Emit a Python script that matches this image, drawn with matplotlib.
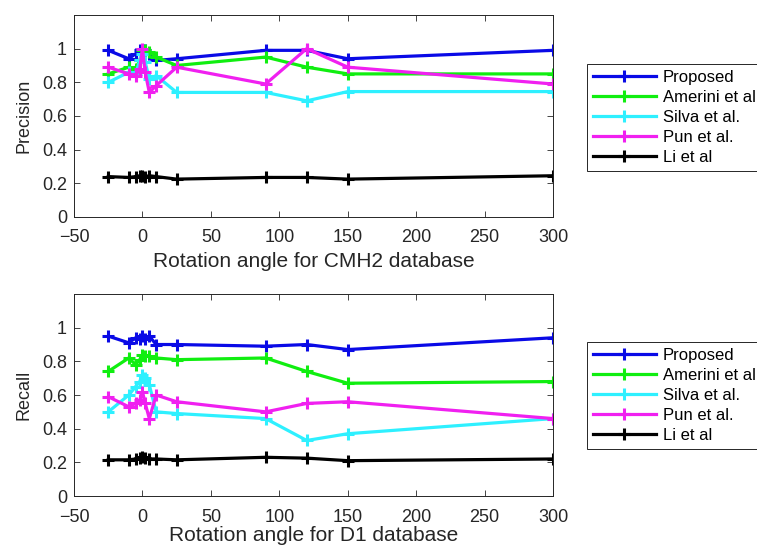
import numpy as np
import matplotlib
matplotlib.use("Agg")
import matplotlib.pyplot as plt

plt.rcParams["font.family"] = ["Liberation Sans", "DejaVu Sans"]

# =====================================================
# DATA
# =====================================================

angles = [-25, -10, -5, -2, 0, 2, 5, 10, 25, 90, 120, 150, 300]

methods = ["Proposed", "Amerini et al", "Silva et al.", "Pun et al.", "Li et al"]

colors = ["#0a0ae6", "#10ee10", "#2ef0ff", "#f020f0", "#000000"]

# precision, CMH2 database
prec_proposed = [0.99, 0.94, 0.97, 0.99, 0.99, 0.99, 0.97, 0.93, 0.94, 0.99, 0.99, 0.94, 0.99]
prec_amerini = [0.85, 0.89, 0.88, 0.93, 0.99, 0.99, 0.98, 0.95, 0.90, 0.95, 0.89, 0.85, 0.85]
prec_silva = [0.80, 0.86, 0.85, 0.93, 0.97, 0.92, 0.82, 0.84, 0.74, 0.74, 0.69, 0.745, 0.745]
prec_pun = [0.89, 0.85, 0.84, 0.88, 1.00, 0.86, 0.74, 0.78, 0.89, 0.79, 1.00, 0.89, 0.79]
prec_li = [0.24, 0.235, 0.24, 0.245, 0.245, 0.24, 0.245, 0.24, 0.225, 0.235, 0.235, 0.225, 0.245]

# recall, D1 database
rec_proposed = [0.95, 0.91, 0.94, 0.93, 0.95, 0.93, 0.95, 0.90, 0.90, 0.89, 0.90, 0.87, 0.94]
rec_amerini = [0.74, 0.82, 0.78, 0.81, 0.84, 0.83, 0.83, 0.82, 0.81, 0.82, 0.74, 0.67, 0.68]
rec_silva = [0.50, 0.60, 0.65, 0.68, 0.72, 0.70, 0.66, 0.50, 0.49, 0.46, 0.33, 0.37, 0.46]
rec_pun = [0.59, 0.53, 0.55, 0.57, 0.62, 0.55, 0.46, 0.60, 0.56, 0.50, 0.55, 0.56, 0.46]
rec_li = [0.215, 0.215, 0.22, 0.225, 0.23, 0.225, 0.22, 0.22, 0.215, 0.23, 0.225, 0.21, 0.22]

precision = [prec_proposed, prec_amerini, prec_silva, prec_pun, prec_li]
recall = [rec_proposed, rec_amerini, rec_silva, rec_pun, rec_li]

xticks = [-50, 0, 50, 100, 150, 200, 250, 300]
yticks = [0, 0.2, 0.4, 0.6, 0.8, 1]
ytick_labels = ["0", "0.2", "0.4", "0.6", "0.8", "1"]

# =====================================================
# PLOT
# =====================================================

fig = plt.figure(figsize=(7.57, 5.47), dpi=100)

ax_top = fig.add_axes([0.0978, 0.6033, 0.6328, 0.3693])
ax_bot = fig.add_axes([0.0978, 0.0932, 0.6328, 0.3693])

panels = [
    (ax_top, precision, "Precision", "Rotation angle for CMH2 database", 0.883, 4),
    (ax_bot, recall, "Recall", "Rotation angle for D1 database", 0.375, 0),
]

for ax, series, ylab, xlab, leg_y, xpad in panels:

    for name, vals, c in zip(methods, series, colors):
        ax.plot(
            angles,
            vals,
            color=c,
            lw=2.3,
            marker="+",
            ms=9,
            mew=2.2,
            label=name,
        )

    ax.set_xlim(-50, 300)
    ax.set_ylim(0, 1.2)
    ax.set_xticks(xticks)
    ax.set_yticks(yticks)
    ax.set_yticklabels(ytick_labels)

    ax.tick_params(
        direction="in",
        top=True,
        right=True,
        labelsize=13,
        labelcolor="#262626",
        color="#262626",
        length=4,
        width=0.6,
    )
    ax.tick_params(axis="x", pad=9)
    ax.tick_params(axis="y", pad=5)

    for s in ax.spines.values():
        s.set_color("#262626")
        s.set_linewidth(0.7)

    ax.set_ylabel(ylab, fontsize=13, color="#262626", labelpad=7)
    ax.set_xlabel(xlab, fontsize=15, color="#262626", labelpad=xpad)

    leg = fig.legend(
        loc="upper left",
        bbox_to_anchor=(0.775, leg_y),
        borderaxespad=0,
        fontsize=12,
        handlelength=3.8,
        handletextpad=0.4,
        labelspacing=0.3,
        borderpad=0.35,
        fancybox=False,
        edgecolor="#262626",
        framealpha=1,
        handles=ax.get_lines(),
    )
    leg.get_frame().set_linewidth(0.7)

plt.savefig("out.png", dpi=100)
